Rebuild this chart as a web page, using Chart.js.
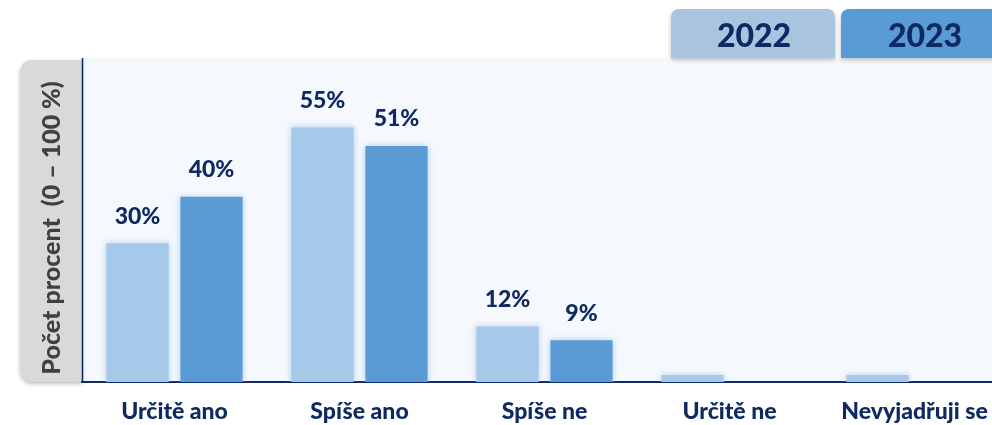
<!DOCTYPE html>
<html lang="cs">
  <head>
    <meta charset="UTF-8" />
    <title>Počet procent</title>
    <script src="https://cdn.jsdelivr.net/npm/chart.js"></script>
    <style>
      html, body { margin: 0; padding: 0; background: #ffffff; overflow: hidden; }
      #wrap { position: relative; width: 992px; height: 425px; overflow: hidden; }
    </style>
  </head>
  <body>
    <!-- the plot runs a little past the right edge, as in the original slide -->
    <div id="wrap"><canvas id="chart" width="1007" height="425"></canvas></div>
    <script>
      // data
      const categories = ["Určitě ano", "Spíše ano", "Spíše ne", "Určitě ne", "Nevyjadřuji se"];
      const values2022 = [30, 55, 12, 1.5, 1.5];
      const values2023 = [40, 51, 9, 0, 0];
      const seriesNames = ["2022", "2023"];
      const yTitle = "Počet procent  (0 – 100 %)";

      const navy = "#0f2a63";
      const font = "Lato, 'Open Sans', sans-serif";

      // background of plot + grey title box + left axis line + legend tabs
      const decor = {
        id: "decor",
        beforeDraw(chart) {
          const { ctx, chartArea: a } = chart;
          ctx.save();
          ctx.fillStyle = "#f5f9fd";
          ctx.fillRect(a.left, a.top, chart.width - a.left, a.bottom - a.top);

          // grey box for the y title
          ctx.shadowColor = "rgba(0,0,0,0.25)";
          ctx.shadowBlur = 4;
          ctx.shadowOffsetY = 2;
          ctx.fillStyle = "#d9d9d9";
          ctx.beginPath();
          ctx.roundRect(20, a.top + 2, a.left - 20, a.bottom - a.top - 2, [12, 0, 0, 12]);
          ctx.fill();
          ctx.restore();

          ctx.save();
          ctx.translate(52, (a.top + a.bottom) / 2 + 8);
          ctx.rotate(-Math.PI / 2);
          ctx.fillStyle = "#404040";
          ctx.font = "900 25px " + font;
          ctx.textAlign = "center";
          ctx.textBaseline = "middle";
          ctx.fillText(yTitle, 0, 0);
          ctx.restore();

          // legend tabs
          const tabs = [
            { x: 671, w: 164, color: "#a9c4df", tx: 754 },
            { x: 841, w: 170, color: "#5b9bd5", tx: 925 },
          ];
          tabs.forEach((t, i) => {
            ctx.save();
            ctx.shadowColor = "rgba(0,0,0,0.25)";
            ctx.shadowBlur = 4;
            ctx.shadowOffsetY = 2;
            ctx.fillStyle = t.color;
            ctx.beginPath();
            ctx.roundRect(t.x, 9, t.w, a.top - 9, [8, 8, 0, 0]);
            ctx.fill();
            ctx.restore();
            ctx.save();
            ctx.fillStyle = navy;
            ctx.font = "900 32px " + font;
            ctx.textAlign = "center";
            ctx.textBaseline = "middle";
            ctx.fillText(seriesNames[i], t.tx, 37);
            ctx.restore();
          });
        },
        afterDraw(chart) {
          const { ctx, chartArea: a } = chart;
          ctx.save();
          ctx.strokeStyle = navy;
          ctx.lineWidth = 1.5;
          ctx.beginPath();
          ctx.moveTo(a.left + 0.5, a.top);
          ctx.lineTo(a.left + 0.5, a.bottom);
          ctx.stroke();
          ctx.restore();
        },
      };

      // soft glow around the bars
      const glow = {
        id: "glow",
        beforeDatasetDraw(chart) {
          const ctx = chart.ctx;
          ctx.save();
          ctx.shadowColor = "rgba(170,200,235,0.9)";
          ctx.shadowBlur = 6;
        },
        afterDatasetDraw(chart) {
          chart.ctx.restore();
        },
      };

      // value labels above the bars
      const valueLabels = {
        id: "valueLabels",
        afterDatasetsDraw(chart) {
          const ctx = chart.ctx;
          ctx.save();
          ctx.fillStyle = navy;
          ctx.font = "900 23px " + font;
          ctx.textAlign = "center";
          ctx.textBaseline = "middle";
          chart.data.datasets.forEach((ds, i) => {
            chart.getDatasetMeta(i).data.forEach((bar, j) => {
              const v = ds.data[j];
              if (v < 5) return;
              ctx.fillText(v + "%", bar.x, bar.y - 27);
            });
          });
          ctx.restore();
        },
      };

      new Chart(document.getElementById("chart"), {
        type: "bar",
        data: {
          labels: categories,
          datasets: [
            { label: seriesNames[0], data: values2022, backgroundColor: "#a6c8e9" },
            { label: seriesNames[1], data: values2023, backgroundColor: "#5b9bd5" },
          ],
        },
        options: {
          responsive: false,
          animation: false,
          categoryPercentage: 0.8,
          barPercentage: 0.84,
          layout: { padding: { left: 82, right: 0, top: 58, bottom: 0 } },
          plugins: { legend: { display: false }, tooltip: { enabled: false } },
          scales: {
            x: {
              grid: { display: false },
              border: { display: true, color: navy, width: 2 },
              ticks: {
                color: navy,
                font: { family: font, size: 23, weight: "900" },
                padding: 8,
              },
              afterFit(scale) { scale.height = 43; },
            },
            y: { display: false, min: 0, max: 70 },
          },
        },
        plugins: [decor, glow, valueLabels],
      });
    </script>
  </body>
</html>
